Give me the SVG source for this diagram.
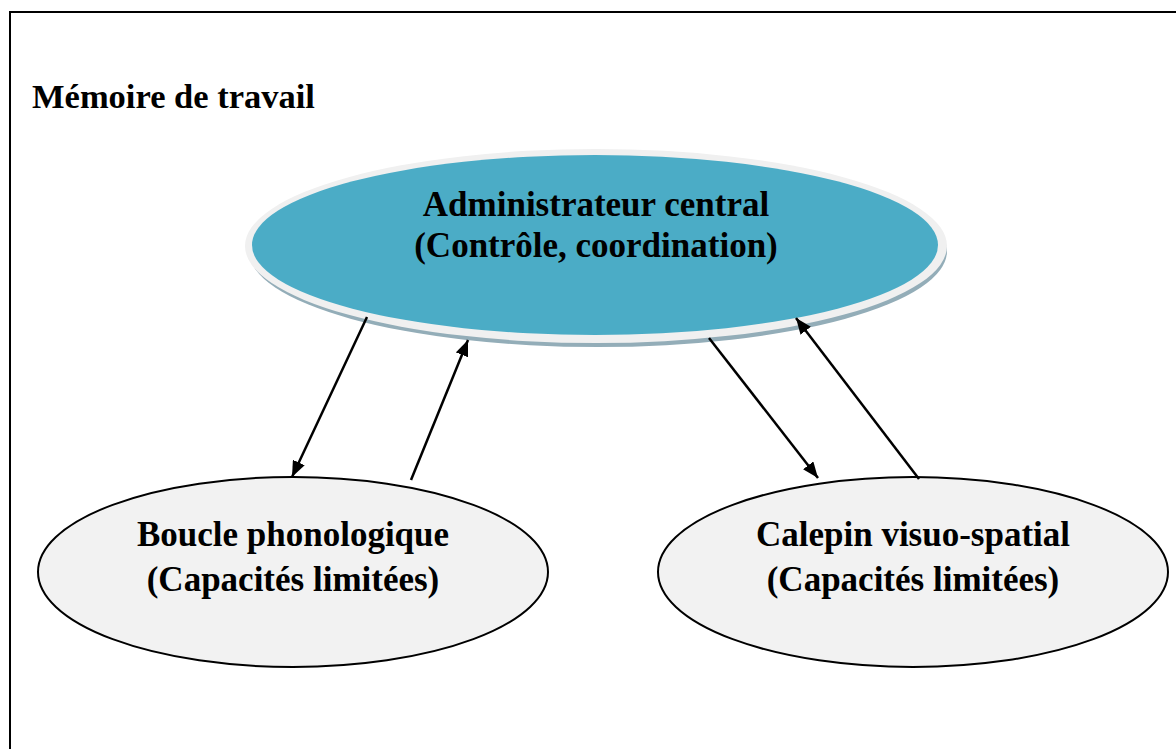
<svg xmlns="http://www.w3.org/2000/svg" width="1176" height="749" viewBox="0 0 1176 749">
<style>
text{font-family:"Liberation Serif","Times New Roman",serif;font-weight:bold;fill:#000}
.t{font-size:35px;text-anchor:middle}
.small{fill:#f2f2f2;stroke:#000;stroke-width:2}
.conn line{stroke:#000;stroke-width:2.5}
</style>
<defs>
<marker id="arr" viewBox="0 0 16 13" refX="16" refY="6.5" markerWidth="16" markerHeight="13" markerUnits="userSpaceOnUse" orient="auto">
<path d="M0,0 L16,6.5 L0,13 Z" fill="#000"/>
</marker>
</defs>
<rect x="0" y="0" width="1176" height="749" fill="#fff"/>
<rect x="10" y="12" width="1180" height="760" fill="none" stroke="#000" stroke-width="2"/>
<text x="32" y="108" style="font-size:34.5px">Mémoire de travail</text>
<g id="admin">
<ellipse cx="598" cy="251" rx="349" ry="96" fill="#93adb8"/>
<ellipse cx="596" cy="246" rx="351" ry="97" fill="#f0f0f0"/>
<ellipse cx="595" cy="245" rx="343" ry="90" fill="#4bacc6"/>
<text class="t" x="596" y="216">Administrateur central</text>
<text class="t" x="596" y="257">(Contrôle, coordination)</text>
</g>
<g id="boucle">
<ellipse class="small" cx="293" cy="572" rx="255" ry="95"/>
<text class="t" x="293" y="546">Boucle phonologique</text>
<text class="t" x="293" y="591">(Capacités limitées)</text>
</g>
<g id="calepin">
<ellipse class="small" cx="913" cy="572" rx="255" ry="95"/>
<text class="t" x="913" y="546">Calepin visuo-spatial</text>
<text class="t" x="913" y="591">(Capacités limitées)</text>
</g>
<g class="conn" id="connectors">
<line x1="367" y1="317" x2="292" y2="477" marker-end="url(#arr)"/>
<line x1="411" y1="480" x2="468" y2="340" marker-end="url(#arr)"/>
<line x1="709" y1="338" x2="818" y2="478" marker-end="url(#arr)"/>
<line x1="919" y1="479" x2="796" y2="318" marker-end="url(#arr)"/>
</g>
</svg>
